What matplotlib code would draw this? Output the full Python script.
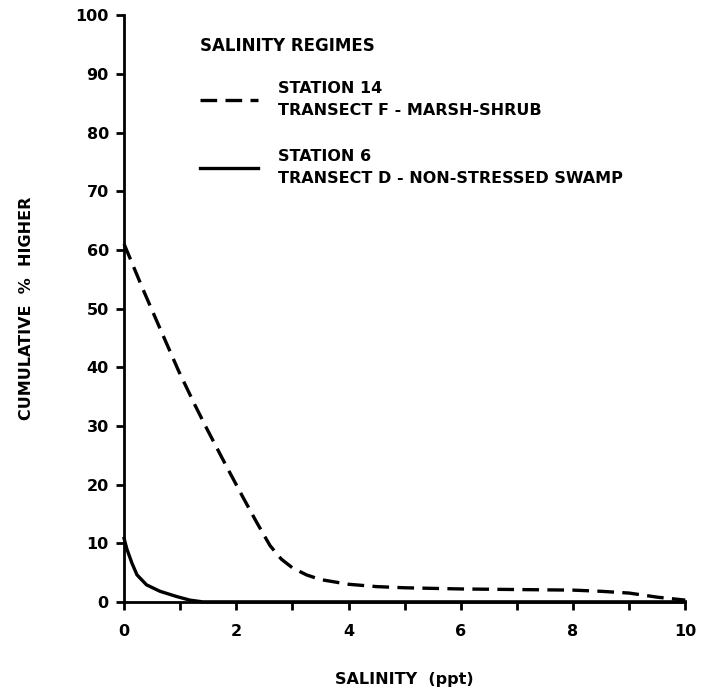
import numpy as np
import matplotlib
matplotlib.use("Agg")
import matplotlib.pyplot as plt

# salinity (ppt) vs cumulative % of readings higher
sal_st14 = [0, 0.34, 0.64, 0.97, 1.26, 1.47, 1.83, 2.12, 2.36, 2.6, 2.8, 3.0, 3.25, 3.5, 4.0, 4.5, 5.0, 6.0, 7.0, 8.0, 8.5, 9.0, 9.5, 10.0]
pct_st14 = [61, 53.2, 46.6, 39.4, 33.6, 29.6, 23.0, 17.8, 13.6, 9.6, 7.3, 5.8, 4.6, 3.8, 3.0, 2.6, 2.4, 2.2, 2.1, 2.0, 1.8, 1.5, 0.8, 0.3]

sal_st6 = [0, 0.05, 0.14, 0.23, 0.4, 0.64, 0.94, 1.17, 1.4, 2.0, 4.0, 7.0, 10.0]
pct_st6 = [10.8, 9.0, 6.6, 4.6, 2.9, 1.8, 0.9, 0.3, 0, 0, 0, 0, 0]

fig = plt.figure(figsize=(7.05, 6.91), dpi=100)
ax = fig.add_axes([0.176, 0.129, 0.796, 0.849])

ax.plot(sal_st14, pct_st14, color="black", lw=2.4, linestyle=(0, (5, 2.5)),
        label="STATION 14\nTRANSECT F - MARSH-SHRUB", clip_on=False)
ax.plot(sal_st6, pct_st6, color="black", lw=2.4,
        label="STATION 6\nTRANSECT D - NON-STRESSED SWAMP", clip_on=False)

ax.set_xlim(0, 10)
ax.set_ylim(0, 100)
ax.set_xticks(np.arange(0, 11, 1))
ax.set_xticklabels(["0", "", "2", "", "4", "", "6", "", "8", "", "10"])
ax.set_yticks(np.arange(0, 101, 10))
ax.tick_params(direction="out", length=6, width=2, labelsize=11.5, pad=5)
for lab in ax.get_xticklabels() + ax.get_yticklabels():
    lab.set_fontweight("bold")
ax.tick_params(axis="x", pad=10)

for s in ["top", "right"]:
    ax.spines[s].set_visible(False)
for s in ["left", "bottom"]:
    ax.spines[s].set_linewidth(2)

ax.set_xlabel("SALINITY  (ppt)", fontsize=11.5, fontweight="bold", labelpad=24)
ax.set_ylabel("CUMULATIVE  %  HIGHER", fontsize=11.5, fontweight="bold", labelpad=30)

leg = ax.legend(loc="upper left", bbox_to_anchor=(0.11, 0.988), frameon=False,
                title="SALINITY REGIMES", handlelength=3.6, handletextpad=1.3,
                labelspacing=1.9, prop={"weight": "bold", "size": 11.5})
leg.get_title().set_fontweight("bold")
leg.get_title().set_fontsize(12)
for t in leg.get_texts():
    t.set_linespacing(1.6)
leg._legend_box.align = "left"
leg._legend_box.sep = 19

fig.savefig("out.png", dpi=100)
